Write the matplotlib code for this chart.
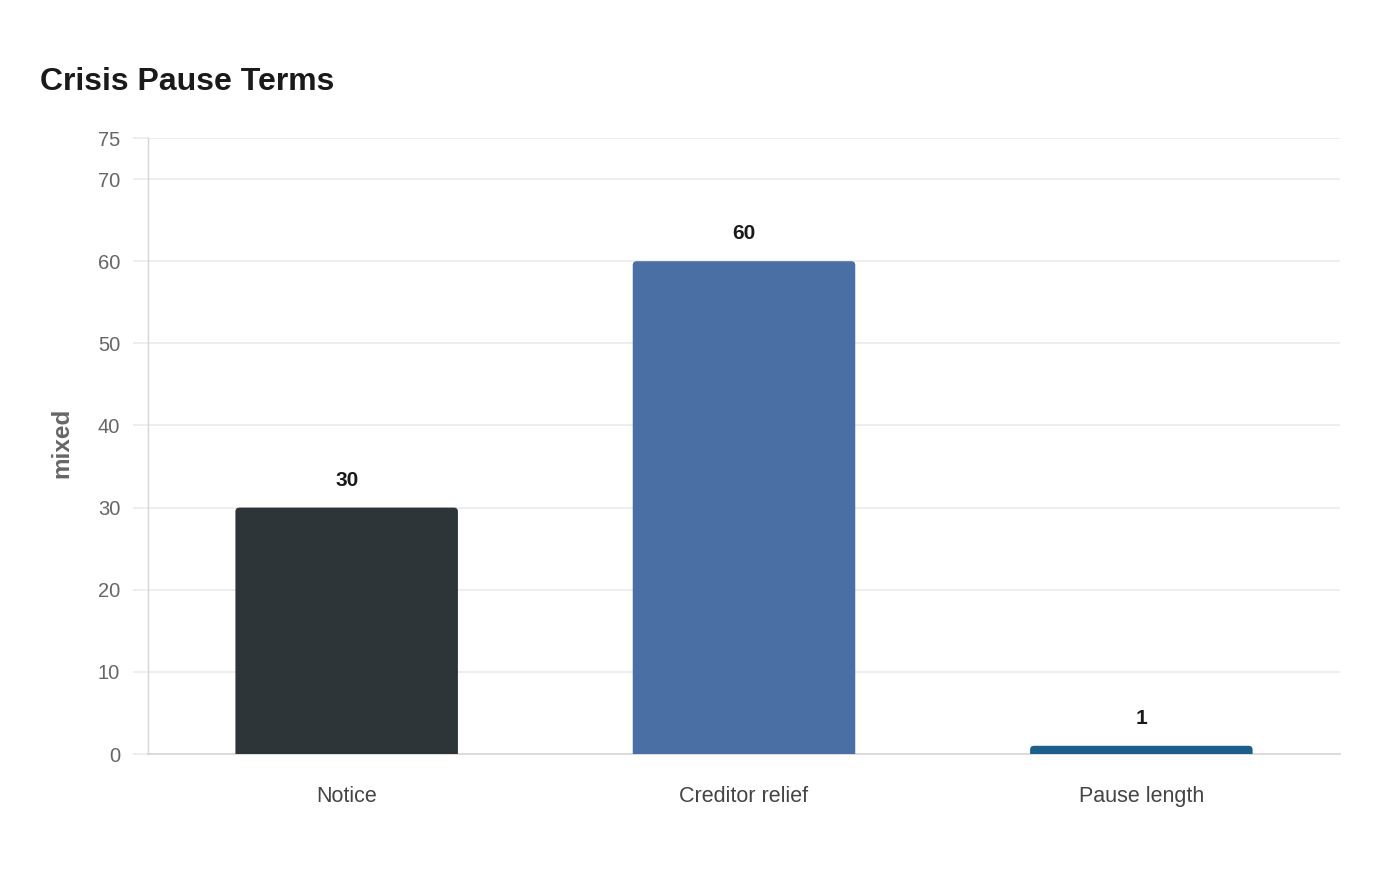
import matplotlib
matplotlib.use("Agg")
import matplotlib.pyplot as plt
from matplotlib.patches import FancyBboxPatch

# --- data ---
categories = ["Notice", "Creditor relief", "Pause length"]
values = [30, 60, 1]
bar_colors = ["#2e3538", "#4a6fa5", "#1c5f8a"]
y_ticks = [0, 10, 20, 30, 40, 50, 60, 70, 75]
title = "Crisis Pause Terms"
y_label = "mixed"

GRID = "#ebebeb"
SPINE = "#d6d6d6"
TICK_TXT = "#666666"
CAT_TXT = "#444444"
DARK = "#1a1a1a"

plt.rcParams.update({
    "font.family": ["Liberation Sans", "DejaVu Sans"],
})

fig = plt.figure(figsize=(14, 8.8), dpi=100)
ax = fig.add_axes([148 / 1400, 1 - 754 / 880, 1192 / 1400, 616 / 880])

x = list(range(len(categories)))
width = 0.56
bars = ax.bar(x, values, width=width, color=bar_colors, zorder=3)

# swap plain bars for ones with softly rounded tops
ax.set_xlim(-0.5, len(categories) - 0.5)
ax.set_ylim(0, 75)
px_x = (ax.get_xlim()[1] - ax.get_xlim()[0]) / 1192
px_y = (ax.get_ylim()[1] - ax.get_ylim()[0]) / 616
r = 4 * px_x
for b in bars:
    b.set_visible(False)
    patch = FancyBboxPatch(
        (b.get_x(), -2), b.get_width(), b.get_height() + 2,
        boxstyle=f"round,pad=0,rounding_size={r}",
        mutation_aspect=px_y / px_x,
        facecolor=b.get_facecolor(), edgecolor="none", zorder=3,
    )
    ax.add_patch(patch)

for xi, v in zip(x, values):
    ax.annotate(str(v), xy=(xi, v), xytext=(0, 13), textcoords="offset points",
                ha="center", va="bottom", fontsize=15, fontweight="bold", color=DARK)

ax.set_yticks(y_ticks)
ax.set_xticks(x)
ax.set_xticklabels(categories)
ax.grid(axis="y", color=GRID, linewidth=1.2, zorder=0)
ax.set_axisbelow(True)

for s in ["top", "right"]:
    ax.spines[s].set_visible(False)
ax.spines["left"].set_color(SPINE)
ax.spines["bottom"].set_color(SPINE)
ax.spines["left"].set_linewidth(1)
ax.spines["bottom"].set_linewidth(1.2)

ax.tick_params(axis="y", length=11, width=1.2, color=GRID, pad=9,
               labelsize=14.5, labelcolor=TICK_TXT)
ax.tick_params(axis="x", length=0, pad=23, labelsize=15.5, labelcolor=CAT_TXT)

ax.set_ylabel(y_label, fontsize=17.5, fontweight="bold", color=TICK_TXT)
ax.yaxis.set_label_coords(-0.0625, 0.505)

fig.text(40 / 1400, 1 - 90 / 880, title, fontsize=23, fontweight="bold",
         color=DARK, ha="left", va="baseline")

fig.savefig("out.png", dpi=100, facecolor="white")
